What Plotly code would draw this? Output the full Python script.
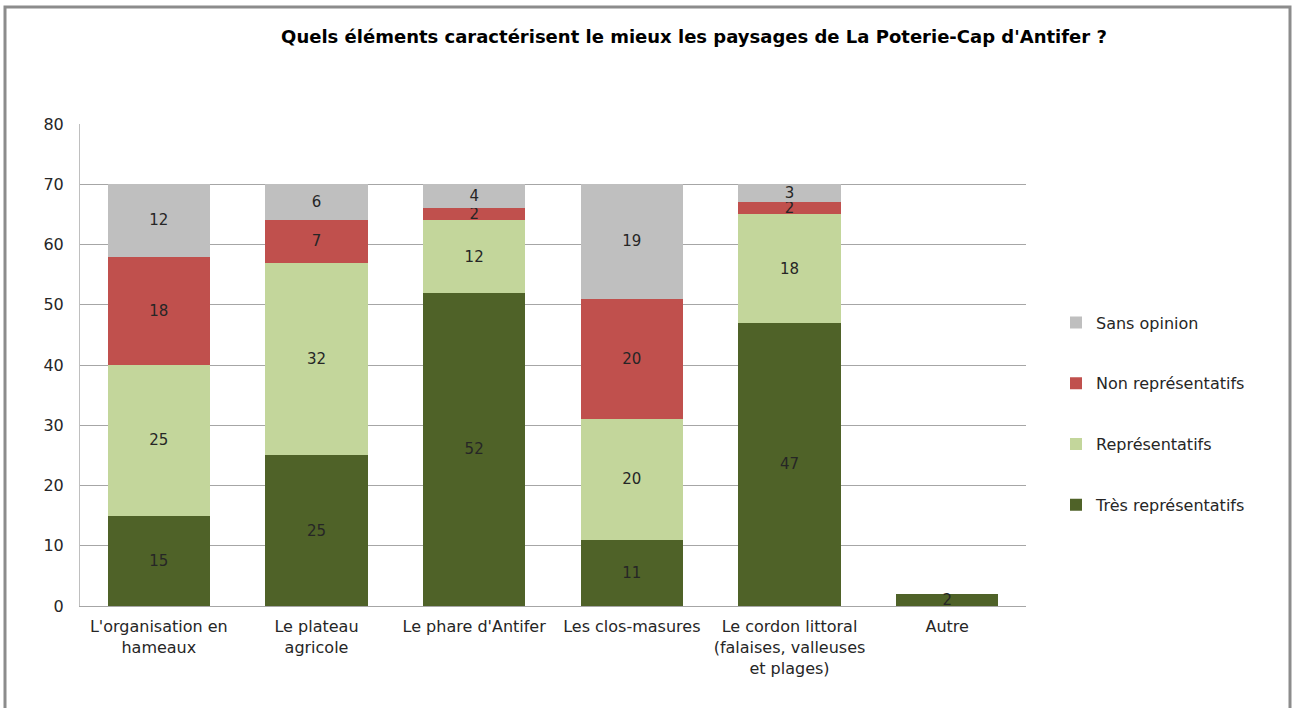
import plotly.graph_objects as go

categories = ["L'organisation en<br>hameaux", "Le plateau<br>agricole", "Le phare d'Antifer",
              "Les clos-masures", "Le cordon littoral<br>(falaises, valleuses<br>et plages)", "Autre"]
tres_rep = [15, 25, 52, 11, 47, 2]
rep = [25, 32, 12, 20, 18, None]
non_rep = [18, 7, 2, 20, 2, None]
sans_op = [12, 6, 4, 19, 3, None]

series = [
    ("Très représentatifs", tres_rep, "#4F6228"),
    ("Représentatifs", rep, "#C3D69B"),
    ("Non représentatifs", non_rep, "#C0504D"),
    ("Sans opinion", sans_op, "#BFBFBF"),
]

FONT = "'DejaVu Sans', sans-serif"
fig = go.Figure()
n = len(series)
for i, (name, vals, col) in enumerate(series):
    fig.add_trace(go.Bar(
        x=categories, y=vals, name=name, marker=dict(color=col, line=dict(width=0)),
        text=[str(v) if v is not None else "" for v in vals], textposition="inside",
        insidetextanchor="middle", textangle=0,
        textfont=dict(color="#262626", size=15, family=FONT),
        legendgroup=name, legendrank=n - i, constraintext="none",
    ))

W, H = 1293, 708
L, R, T, B = 80, 267, 124, 102
pw, ph = W - L - R, H - T - B

def px2paper_x(px):
    return (px - L) / pw

def px2paper_y(py):
    return (H - B - py) / ph

fig.update_layout(
    width=W, height=H,
    barmode="stack", bargap=0.35,
    plot_bgcolor="white", paper_bgcolor="white",
    margin=dict(l=L, r=R, t=T, b=B),
    font=dict(family=FONT, size=15, color="#262626"),
    title=dict(text="<b>Quels éléments caractérisent le mieux les paysages de La Poterie-Cap d'Antifer ?</b>",
               x=694 / W, xanchor="center", y=1 - 37 / H, yanchor="middle",
               font=dict(size=18, color="#000000", family=FONT)),
    legend=dict(traceorder="grouped", tracegroupgap=37, x=px2paper_x(1056), xanchor="left",
                y=px2paper_y(414), yanchor="middle", font=dict(size=16, color="#262626", family=FONT),
                itemwidth=30, bgcolor="rgba(0,0,0,0)"),
    yaxis=dict(range=[0, 80], dtick=10, showgrid=True, gridcolor="#A6A6A6", gridwidth=1,
               showline=True, linecolor="#BFBFBF", linewidth=1, ticks="", ticklen=0,
               tickfont=dict(size=16), zeroline=False, ticklabelstandoff=12),
    xaxis=dict(showline=True, linecolor="#A6A6A6", linewidth=1, ticks="",
               tickfont=dict(size=16), ticklabelstandoff=6),
    uniformtext=dict(mode=False),
    shapes=[dict(type="rect", xref="paper", yref="paper",
                 x0=px2paper_x(5), x1=px2paper_x(1290), y0=px2paper_y(740), y1=px2paper_y(7),
                 line=dict(color="#8C8C8C", width=3), fillcolor="rgba(0,0,0,0)", layer="below")],
)
fig.write_html("out.html", config={"displayModeBar": False},
               post_script="document.body.style.margin='0';document.body.style.padding='0';")
